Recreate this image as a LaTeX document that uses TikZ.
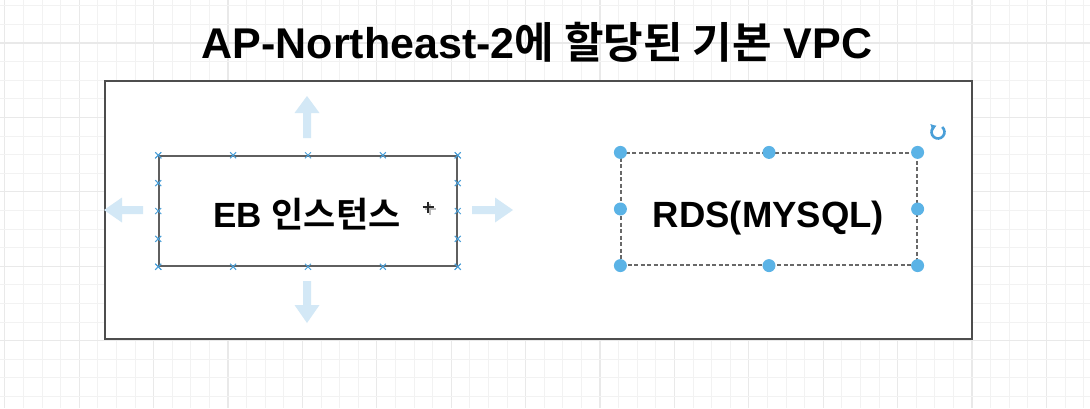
\documentclass[tikz,border=0pt]{standalone}
\usepackage{fontspec}
\setmainfont{Liberation Sans}
\newfontfamily\kr[Scale=1.0,BoldFont={* Bold}]{Noto Sans CJK KR}
\usetikzlibrary{arrows.meta,calc}
\definecolor{gridfine}{HTML}{F2F2F2}
\definecolor{gridmajor}{HTML}{E9E9E9}
\definecolor{boxline}{HTML}{4D4D4D}
\definecolor{handle}{HTML}{5BB3E6}
\definecolor{marker}{HTML}{4A9FD8}
\definecolor{ghost}{HTML}{D3E8F6}
\tikzset{
  vpcbox/.style={draw=boxline,line width=2pt,fill=white,inner sep=0pt,minimum width=867pt,minimum height=258pt},
  ebbox/.style={draw=boxline!90,line width=1.5pt,inner sep=0pt,minimum width=298pt,minimum height=110pt},
  rdsbox/.style={draw=boxline!85,line width=1.2pt,dash pattern=on 4pt off 2.5pt,inner sep=0pt,minimum width=296pt,minimum height=112pt},
  labeltext/.style={anchor=base,inner sep=0pt,font=\bfseries},
  handledot/.style={fill=handle},
  xmark/.style={draw=marker,line width=1pt},
  ghostarrow/.style={fill=ghost,draw=none},
  rotarrow/.style={draw=marker,line width=2.6pt,-{Triangle[length=4.5pt,width=7pt]}},
}
\begin{document}
\begin{tikzpicture}[x=1pt,y=-1pt]
\useasboundingbox (0,0) rectangle (1090,408);
\clip (0,0) rectangle (1090,408);
\fill[white] (0,0) rectangle (1090,408);
% grid
\foreach \i in {-7,...,53} {
  \pgfmathtruncatemacro{\m}{mod(\i+100,4)}
  \ifnum\m=0
    \draw[gridmajor,line width=1.2pt] ({972-18.6*\i},0) -- ({972-18.6*\i},408);
  \else
    \draw[gridfine,line width=1pt] ({972-18.6*\i},0) -- ({972-18.6*\i},408);
  \fi
}
\foreach \j in {-3,...,20} {
  \pgfmathtruncatemacro{\m}{mod(\j+100,4)}
  \ifnum\m=0
    \draw[gridmajor,line width=1.2pt] (0,{43+18.6*\j}) -- (1090,{43+18.6*\j});
  \else
    \draw[gridfine,line width=1pt] (0,{43+18.6*\j}) -- (1090,{43+18.6*\j});
  \fi
}
% title
\node[labeltext] (title) at (537,58) {\fontsize{43}{50}\selectfont AP-Northeast-2{\kr 에 할당된 기본} VPC};
% VPC box
\node[vpcbox] (vpc) at (538.5,210) {};
% ghost move arrows
\fill[ghostarrow] (303,138) -- (303,113) -- (294.5,113) -- (307,96) -- (319.5,113) -- (311,113) -- (311,138) -- cycle;
\fill[ghostarrow] (303,281) -- (303,305) -- (294.5,305) -- (307,323) -- (319.5,305) -- (311,305) -- (311,281) -- cycle;
\fill[ghostarrow] (143,206) -- (122,206) -- (122,197.5) -- (104,210) -- (122,222.5) -- (122,214) -- (143,214) -- cycle;
\fill[ghostarrow] (472,206) -- (495,206) -- (495,197.5) -- (513,210) -- (495,222.5) -- (495,214) -- (472,214) -- cycle;
% EB box
\node[ebbox] (eb) at (308,211) {};
\node[labeltext] (ebtext) at (307,227) {\fontsize{35}{40}\selectfont EB {\kr 인스턴스}};
\foreach \t in {0,0.25,0.5,0.75,1} {
  \foreach \a/\b in {north west/north east,south west/south east,north west/south west,north east/south east} {
    \coordinate (p) at ($(eb.\a)!\t!(eb.\b)$);
    \draw[xmark] ($(p)+(-3,-3)$) -- ($(p)+(3,3)$);
    \draw[xmark] ($(p)+(-3,3)$) -- ($(p)+(3,-3)$);
  }
}
% cursor
\draw[gray!55,line width=2pt] (424.5,209) -- (435.5,209) (430,203.5) -- (430,214.5);
\draw[black!85,line width=1.5pt] (422.5,207) -- (433.5,207) (428,201.5) -- (428,212.5);
% RDS box
\node[rdsbox] (rds) at (769,209) {};
\node[labeltext] (rdstext) at (768.5,227) {\fontsize{36.5}{42}\selectfont RDS(MYSQL)};
\foreach \a in {north west,north,north east,west,east,south west,south,south east} {
  \fill[handledot] (rds.\a) circle (6.5);
}
% rotate handle
\draw[rotarrow] (938,132) ++(-50:6.5) arc[start angle=-50,end angle=250,radius=6.5];
\end{tikzpicture}
\end{document}
